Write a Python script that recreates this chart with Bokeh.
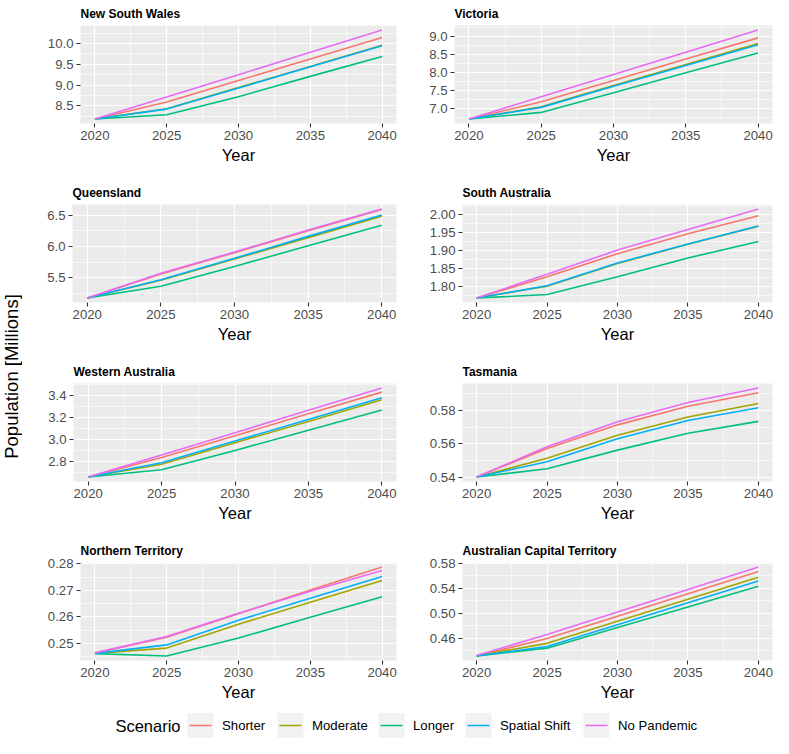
import math
from bokeh.plotting import figure
from bokeh.models import FixedTicker, Range1d, Label
from bokeh.layouts import row, column
from bokeh.embed import file_html
from bokeh.resources import INLINE

# ---------------- data ----------------
years = [2020, 2025, 2030, 2035, 2040]
scenarios = ["Shorter", "Moderate", "Longer", "Spatial Shift", "No Pandemic"]
colors = ["#F8766D", "#A3A500", "#00BF7D", "#00B0F6", "#E76BF3"]
x_ticks = [2020, 2025, 2030, 2035, 2040]
x_tick_labels = ["2020", "2025", "2030", "2035", "2040"]

nsw = {
    "Shorter":       [8.18, 8.59, 9.11, 9.63, 10.15],
    "Moderate":      [8.18, 8.43, 8.94, 9.45, 9.96],
    "Longer":        [8.18, 8.285, 8.72, 9.21, 9.69],
    "Spatial Shift": [8.18, 8.42, 8.93, 9.44, 9.95],
    "No Pandemic":   [8.18, 8.71, 9.25, 9.79, 10.33],
}
vic = {
    "Shorter":       [6.71, 7.19, 7.78, 8.38, 8.97],
    "Moderate":      [6.71, 7.05, 7.64, 8.23, 8.81],
    "Longer":        [6.71, 6.895, 7.44, 8.00, 8.55],
    "Spatial Shift": [6.71, 7.035, 7.62, 8.20, 8.78],
    "No Pandemic":   [6.71, 7.33, 7.95, 8.57, 9.19],
}
qld = {
    "Shorter":       [5.177, 5.56, 5.90, 6.25, 6.59],
    "Moderate":      [5.177, 5.46, 5.80, 6.14, 6.48],
    "Longer":        [5.177, 5.364, 5.68, 6.01, 6.338],
    "Spatial Shift": [5.177, 5.47, 5.81, 6.16, 6.50],
    "No Pandemic":   [5.177, 5.571, 5.91, 6.26, 6.597],
}
sa = {
    "Shorter":       [1.769, 1.828, 1.892, 1.947, 1.997],
    "Moderate":      [1.769, 1.802, 1.865, 1.918, 1.968],
    "Longer":        [1.769, 1.779, 1.828, 1.880, 1.926],
    "Spatial Shift": [1.769, 1.803, 1.866, 1.919, 1.969],
    "No Pandemic":   [1.769, 1.835, 1.902, 1.959, 2.016],
}
wa = {
    "Shorter":       [2.658, 2.837, 3.035, 3.235, 3.432],
    "Moderate":      [2.658, 2.774, 2.970, 3.165, 3.362],
    "Longer":        [2.658, 2.724, 2.900, 3.085, 3.270],
    "Spatial Shift": [2.658, 2.789, 2.986, 3.183, 3.380],
    "No Pandemic":   [2.658, 2.858, 3.062, 3.266, 3.470],
}
tas = {
    "Shorter":       [0.540, 0.5572, 0.5714, 0.5826, 0.5907],
    "Moderate":      [0.540, 0.5513, 0.5652, 0.5761, 0.5842],
    "Longer":        [0.540, 0.5450, 0.5562, 0.5664, 0.5735],
    "Spatial Shift": [0.540, 0.5492, 0.5631, 0.5740, 0.5817],
    "No Pandemic":   [0.540, 0.5582, 0.5733, 0.5849, 0.5936],
}
nt = {
    "Shorter":       [0.2463, 0.2523, 0.2612, 0.2701, 0.2788],
    "Moderate":      [0.2462, 0.2482, 0.2572, 0.2655, 0.2737],
    "Longer":        [0.2461, 0.2452, 0.2520, 0.2598, 0.2676],
    "Spatial Shift": [0.2462, 0.2494, 0.2587, 0.2670, 0.2752],
    "No Pandemic":   [0.2464, 0.2526, 0.2613, 0.2696, 0.2775],
}
act = {
    "Shorter":       [0.4320, 0.4594, 0.4952, 0.5310, 0.5667],
    "Moderate":      [0.4320, 0.4518, 0.4871, 0.5224, 0.5576],
    "Longer":        [0.4315, 0.4441, 0.4771, 0.5100, 0.5429],
    "Spatial Shift": [0.4315, 0.4467, 0.4816, 0.5166, 0.5515],
    "No Pandemic":   [0.4325, 0.4660, 0.5020, 0.5380, 0.5739],
}

nsw_ticks, nsw_labels = [8.5, 9.0, 9.5, 10.0], ["8.5", "9.0", "9.5", "10.0"]
vic_ticks, vic_labels = [7.0, 7.5, 8.0, 8.5, 9.0], ["7.0", "7.5", "8.0", "8.5", "9.0"]
qld_ticks, qld_labels = [5.5, 6.0, 6.5], ["5.5", "6.0", "6.5"]
sa_ticks, sa_labels = [1.80, 1.85, 1.90, 1.95, 2.00], ["1.80", "1.85", "1.90", "1.95", "2.00"]
wa_ticks, wa_labels = [2.8, 3.0, 3.2, 3.4], ["2.8", "3.0", "3.2", "3.4"]
tas_ticks, tas_labels = [0.54, 0.56, 0.58], ["0.54", "0.56", "0.58"]
nt_ticks, nt_labels = [0.25, 0.26, 0.27, 0.28], ["0.25", "0.26", "0.27", "0.28"]
act_ticks, act_labels = [0.46, 0.50, 0.54, 0.58], ["0.46", "0.50", "0.54", "0.58"]

y_title = "Population [Millions]"
x_title = "Year"
legend_title = "Scenario"

# ---------------- styling / layout ----------------
FONT = "Liberation Sans"
YLAB_W, LEFT_W, RIGHT_W = 22, 375, 376
ROW_H = [179, 179, 179, 167]
BOTTOM = [56, 56, 56, 44]
TOP = 24


def make_panel(title, data, yticks, ylabels, fig_w, fig_h, border_left, border_bottom):
    vals = [v for s in scenarios for v in data[s]]
    lo, hi = min(vals), max(vals)
    pad = (hi - lo) * 0.05
    y0, y1 = lo - pad, hi + pad
    p = figure(width=fig_w, height=fig_h, output_backend="svg", toolbar_location=None,
               x_range=Range1d(2019, 2041), y_range=Range1d(y0, y1),
               min_border_left=border_left, min_border_right=1,
               min_border_top=TOP, min_border_bottom=border_bottom, title=title)
    p.background_fill_color = "#EBEBEB"
    p.border_fill_color = "white"
    p.outline_line_color = None
    p.title.text_font = FONT
    p.title.text_font_size = "12px"
    p.title.text_font_style = "bold"
    p.title.text_color = "black"
    p.title.align = "left"
    p.title.offset = 0
    p.title.standoff = 9

    step = yticks[1] - yticks[0]
    yminor = [t - step / 2 for t in yticks] + [yticks[-1] + step / 2]
    yminor = [m for m in yminor if y0 <= m <= y1]
    xminor = [t + 2.5 for t in x_ticks[:-1]]

    p.xaxis.ticker = FixedTicker(ticks=x_ticks, minor_ticks=xminor)
    p.yaxis.ticker = FixedTicker(ticks=yticks, minor_ticks=yminor)
    p.xaxis.major_label_overrides = dict(zip(x_ticks, x_tick_labels))
    p.yaxis.major_label_overrides = dict(zip(yticks, ylabels))
    p.xaxis.axis_label = x_title

    for ax in (p.xaxis[0], p.yaxis[0]):
        ax.axis_line_color = None
        ax.major_tick_in = 0
        ax.major_tick_out = 4
        ax.major_tick_line_color = "#333333"
        ax.major_tick_line_width = 1.1
        ax.minor_tick_line_color = None
        ax.major_label_text_font = FONT
        ax.major_label_text_font_size = "13.2px"
        ax.major_label_text_color = "#4D4D4D"
        ax.major_label_standoff = 3
    p.xaxis.axis_label_text_font = FONT
    p.xaxis.axis_label_text_font_size = "16.5px"
    p.xaxis.axis_label_text_font_style = "normal"
    p.xaxis.axis_label_text_color = "black"
    p.xaxis.axis_label_standoff = 3

    for g in (p.xgrid[0], p.ygrid[0]):
        g.grid_line_color = "white"
        g.grid_line_width = 1.2
        g.minor_grid_line_color = "white"
        g.minor_grid_line_width = 0.6

    for s, c in zip(scenarios, colors):
        p.line(years, data[s], line_color=c, line_width=1.6)
    return p


panels_spec = [
    # (title, data, ticks, labels, border_left) for left / right panel of each row
    [("New South Wales", nsw, nsw_ticks, nsw_labels, 58),
     ("Victoria", vic, vic_ticks, vic_labels, 57)],
    [("Queensland", qld, qld_ticks, qld_labels, 50),
     ("South Australia", sa, sa_ticks, sa_labels, 65)],
    [("Western Australia", wa, wa_ticks, wa_labels, 51),
     ("Tasmania", tas, tas_ticks, tas_labels, 65)],
    [("Northern Territory", nt, nt_ticks, nt_labels, 58),
     ("Australian Capital Territory", act, act_ticks, act_labels, 65)],
]

rows = []
for i, (lspec, rspec) in enumerate(panels_spec):
    lp = make_panel(*lspec[:4], LEFT_W, ROW_H[i], lspec[4], BOTTOM[i])
    rp = make_panel(*rspec[:4], RIGHT_W, ROW_H[i], rspec[4], BOTTOM[i])
    rows.append(row(lp, rp))
grid = column(*rows)

# y-axis title column
total_h = sum(ROW_H)
ylab = figure(width=YLAB_W, height=total_h, output_backend="svg", toolbar_location=None,
              x_range=Range1d(0, YLAB_W), y_range=Range1d(0, total_h), min_border=0)
ylab.axis.visible = False
ylab.grid.visible = False
ylab.outline_line_color = None
ylab.background_fill_color = "white"
ylab.add_layout(Label(x=YLAB_W / 2, y=total_h - 376, text=y_title, angle=math.pi / 2,
                      text_align="center", text_baseline="middle",
                      text_font=FONT, text_font_size="18.5px", text_color="black"))

# legend strip
LEG_W, LEG_H = YLAB_W + LEFT_W + RIGHT_W, 34
leg = figure(width=LEG_W, height=LEG_H, output_backend="svg", toolbar_location=None,
             x_range=Range1d(0, LEG_W), y_range=Range1d(0, LEG_H), min_border=0)
leg.axis.visible = False
leg.grid.visible = False
leg.outline_line_color = None
leg.background_fill_color = "white"
key_left = [187, 277, 378, 465, 583]
key_w, key_h, key_cy = 26, 25, 13
leg.add_layout(Label(x=key_left[0] - 7, y=key_cy, text=legend_title, text_align="right",
                     text_baseline="middle", text_font=FONT, text_font_size="16.5px",
                     text_color="black"))
leg.rect(x=[k + key_w / 2 for k in key_left], y=[key_cy] * len(key_left),
         width=key_w, height=key_h, fill_color="#F2F2F2", line_color=None)
leg.segment(x0=[k + 2 for k in key_left], y0=[key_cy] * len(key_left),
            x1=[k + key_w - 2 for k in key_left], y1=[key_cy] * len(key_left),
            line_color=colors, line_width=1.6)
for k, s in zip(key_left, scenarios):
    leg.add_layout(Label(x=k + key_w + 8.5, y=key_cy, text=s, text_align="left",
                         text_baseline="middle", text_font=FONT, text_font_size="13.2px",
                         text_color="black"))

page = column(row(ylab, grid), leg)

open("out.html", "w").write(file_html(page, INLINE))
